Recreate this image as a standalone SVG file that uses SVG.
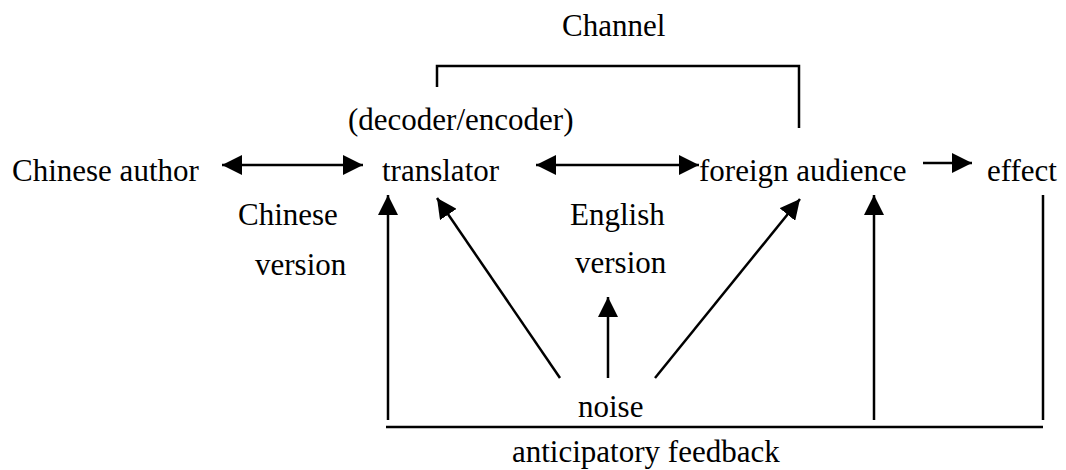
<svg xmlns="http://www.w3.org/2000/svg" width="1066" height="470" viewBox="0 0 1066 470">
<defs>
<marker id="ah" markerUnits="userSpaceOnUse" viewBox="0 0 20 20" refX="20" refY="10" markerWidth="20" markerHeight="20" orient="auto-start-reverse">
<path d="M0,0 L20,10 L0,20 z" fill="#000"/>
</marker>
<style>
.t text{font-family:'Times New Roman','Liberation Serif',Tinos,'Nimbus Roman','Noto Serif','DejaVu Serif',serif;font-size:31px;fill:#000}
.c{stroke:#000;stroke-width:2.5;fill:none}
.a{marker-end:url(#ah)}
.b{marker-start:url(#ah);marker-end:url(#ah)}
</style>
</defs>
<rect width="1066" height="470" fill="#fff"/>
<g id="connectors">
<path class="c" d="M437,87 V66 H799 V128"/>
<line class="c b" x1="222" y1="165" x2="363" y2="165"/>
<line class="c b" x1="536" y1="165" x2="699" y2="165"/>
<line class="c a" x1="923" y1="163" x2="972" y2="163"/>
<line class="c a" x1="388" y1="420" x2="388" y2="195"/>
<line class="c a" x1="560" y1="378" x2="437" y2="198"/>
<line class="c a" x1="608" y1="378" x2="608" y2="297"/>
<line class="c a" x1="655" y1="378" x2="800" y2="199"/>
<line class="c a" x1="874" y1="420" x2="874" y2="195"/>
<line class="c" x1="1043" y1="195" x2="1043" y2="420"/>
<line class="c" x1="386" y1="427" x2="1043" y2="427"/>
</g>
<g class="t">
<g id="channel"><text x="562" y="36">Channel</text></g>
<g id="decoder"><text x="348" y="130">(decoder/encoder)</text></g>
<g id="chinese-author"><text x="12" y="181">Chinese author</text></g>
<g id="translator"><text x="382" y="181">translator</text></g>
<g id="foreign-audience"><text x="699" y="181">foreign audience</text></g>
<g id="effect"><text x="987" y="181">effect</text></g>
<g id="chinese-version"><text x="238" y="225">Chinese</text><text x="255" y="275">version</text></g>
<g id="english-version"><text x="570" y="225">English</text><text x="575" y="273">version</text></g>
<g id="noise"><text x="578" y="417">noise</text></g>
<g id="feedback"><text x="512" y="462">anticipatory feedback</text></g>
</g>
</svg>
